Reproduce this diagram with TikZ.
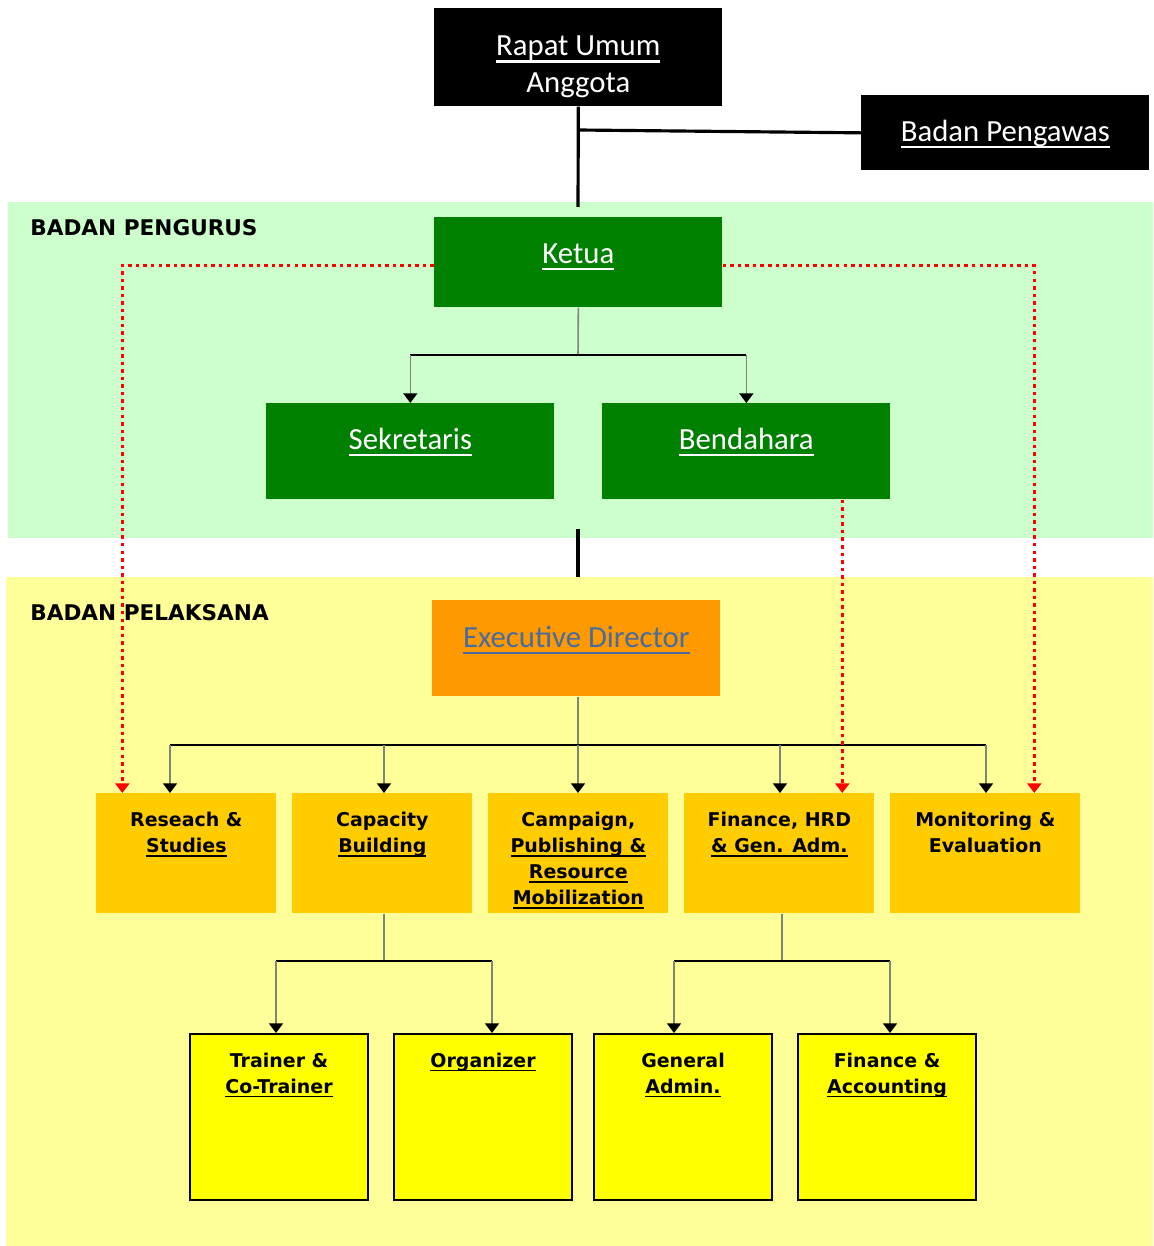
\documentclass[tikz,border=0pt]{standalone}
\usepackage{fontspec}
\setmainfont{Carlito}
\newfontfamily\tahoma{DejaVu Sans}
\usetikzlibrary{positioning,arrows.meta}
\definecolor{pengurus}{HTML}{CCFFCC}
\definecolor{pelaksana}{HTML}{FFFF99}
\definecolor{hijau}{HTML}{008000}
\definecolor{oranye}{HTML}{FF9900}
\definecolor{emas}{HTML}{FFCC00}
\definecolor{kuning}{HTML}{FFFF00}
\definecolor{edtext}{RGB}{72,108,160}
\definecolor{garis}{RGB}{125,135,120}
% underline at a fixed depth, like a word processor does
\newcommand\ulx[1]{\setbox0\hbox{#1}\rlap{\vrule height -0.14em depth 0.23em width \wd0}\box0}
\tikzset{
  box/.style={inner sep=0pt,anchor=north west,align=center},
  topbox/.style={box,fill=black,text=white,minimum width=5.76cm,font=\fontsize{17.5}{21}\selectfont},
  greenbox/.style={box,fill=hijau,text=white,minimum width=5.76cm,text height=0.92cm,text depth=1cm,font=\fontsize{17.5}{21}\selectfont},
  % text height runs to the last baseline, two lines by default
  unitbox/.style={box,fill=emas,minimum width=3.6cm,text height=1.18cm,text depth=1.22cm,font=\tahoma\bfseries\fontsize{10.8}{14.7}\selectfont},
  subbox/.style={box,fill=kuning,draw=black,line width=1.2pt,minimum width=3.56cm,text height=1.18cm,text depth=2.14cm,font=\tahoma\bfseries\fontsize{10.8}{14.7}\selectfont},
  grplbl/.style={anchor=west,inner sep=0pt,font=\tahoma\bfseries\fontsize{12.3}{14}\selectfont},
  tegak/.style={draw=garis,line width=0.9pt},
  datar/.style={draw=black,line width=1.1pt},
  panah/.style={-{Triangle[color=black,width=8pt,length=5.5pt]}},
  merah/.style={red,line width=2pt,dash pattern=on 2pt off 2.3pt,-{Triangle[width=8pt,length=5.5pt]}},
  tebal/.style={line width=1.8pt}
}
\begin{document}
\begin{tikzpicture}[x=0.02cm,y=-0.02cm]
\useasboundingbox (0,0) rectangle (1153,1246);
% backgrounds
\fill[pengurus] (8,202) rectangle (1153,538);
\fill[pelaksana] (6,577) rectangle (1153,1246);
\node[grplbl] (lpg) at (30,228) {BADAN PENGURUS};
\node[grplbl] (lpl) at (30,613) {BADAN PELAKSANA};

% top
\node[topbox,text height=1.68cm,text depth=0.28cm] (rua) at (434,8) {\ulx{Rapat Umum}\\Anggota};
\node[topbox,text height=0.92cm,text depth=0.58cm] (bpw) at (861,95) {\ulx{Badan Pengawas}};
\coordinate (rj) at (578,130);
\coordinate (rend) at (578,207);
\draw[tebal] (rua.south) -- (rend);
\draw[tebal] (rj) -- (bpw.west);

% pengurus
\node[greenbox,text depth=0.88cm] (ketua) at (434,217) {\ulx{Ketua}};
\node[greenbox] (sek) at (266,403) {\ulx{Sekretaris}};
\node[greenbox] (ben) at (602,403) {\ulx{Bendahara}};
\coordinate (kj) at (578,355);
\draw[tegak] (ketua.south) -- (kj);
\draw[datar] (sek.north |- kj) -- (ben.north |- kj);
\draw[tegak,panah] (sek.north |- kj) -- (sek.north);
\draw[tegak,panah] (ben.north |- kj) -- (ben.north);
\coordinate (p1) at (578,529);
\coordinate (p2) at (578,577);
\draw[tebal] (p1) -- (p2);

% pelaksana
\node[greenbox,fill=oranye,text=edtext,text height=0.94cm,text depth=0.98cm] (ed) at (432,600) {\ulx{Executive Director}};
\node[unitbox] (res) at (96,793) {Reseach \&\\\ulx{Studies}};
\node[unitbox] (cap) at (292,793) {Capacity\\\ulx{Building}};
\node[unitbox,text height=2.22cm,text depth=0.18cm] (kmp) at (488,793) {Campaign,\\\ulx{Publishing \&}\\\ulx{Resource}\\\ulx{Mobilization}};
\node[unitbox,minimum width=3.8cm] (fin) at (684,793) {Finance, HRD\\\ulx{\& Gen. Adm.}};
\node[unitbox,minimum width=3.8cm] (mon) at (890,793) {Monitoring \&\\Evaluation};
\coordinate (ej) at (578,745);
\coordinate (e1) at (170,745);
\coordinate (e5) at (986,745);
\draw[tegak] (ed.south -| ej) -- (ej);
\draw[datar] (e1) -- (e5);
\foreach \k/\b in {170/res,384/cap,578/kmp,780/fin,986/mon}{
  \coordinate (t) at (\k,745);
  \draw[tegak,panah] (t) -- (t |- \b.north);
}

% sub units
\node[subbox] (trn) at (189,1033) {Trainer \&\\\ulx{Co-Trainer}};
\node[subbox,text height=0.66cm,text depth=2.66cm] (org) at (393,1033) {\ulx{Organizer}};
\node[subbox] (gen) at (593,1033) {General\\\ulx{Admin.}};
\node[subbox] (fac) at (797,1033) {Finance \&\\\ulx{Accounting}};
\coordinate (cj) at (384,961);
\coordinate (c1) at (276,961);
\coordinate (c2) at (492,961);
\draw[tegak] (cap.south -| cj) -- (cj);
\draw[datar] (c1) -- (c2);
\draw[tegak,panah] (c1) -- (c1 |- trn.north);
\draw[tegak,panah] (c2) -- (c2 |- org.north);
\coordinate (fj) at (782,961);
\coordinate (f1) at (674,961);
\coordinate (f2) at (890,961);
\draw[tegak] (fin.south -| fj) -- (fj);
\draw[datar] (f1) -- (f2);
\draw[tegak,panah] (f1) -- (f1 |- gen.north);
\draw[tegak,panah] (f2) -- (f2 |- fac.north);

% koordinasi
\draw[merah] ([yshift=-0.06cm]ketua.west) -| ([xshift=-1.28cm]res.north);
\draw[merah] ([yshift=-0.06cm]ketua.east) -| ([xshift=0.98cm]mon.north);
\coordinate (bj) at ([xshift=1.92cm]ben.south);
\draw[merah] (bj) -- (bj |- fin.north);
\end{tikzpicture}
\end{document}
